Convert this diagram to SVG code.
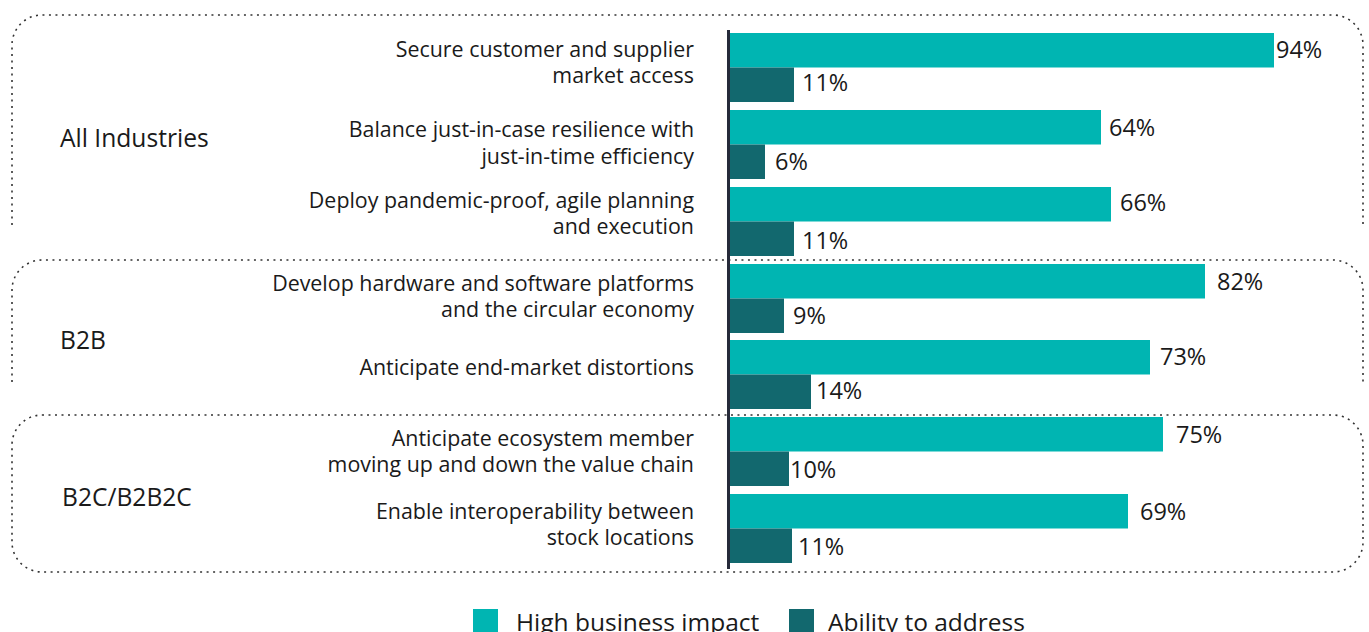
<svg xmlns="http://www.w3.org/2000/svg" width="1369" height="632" viewBox="0 0 1369 632">
<style>
text{font-family:"Open Sans","Noto Sans","DejaVu Sans",sans-serif;fill:#1a1a1a}
.lbl{font-size:21.4px;text-anchor:end}
.val{font-size:23.5px}
.cat{font-size:24.6px}
.leg{font-size:24.5px}
.hi{fill:#00B5B2}
.lo{fill:#12686E}
.box{fill:none;stroke:#333;stroke-width:1.6;stroke-dasharray:2 4.5}
</style>
<rect width="1369" height="632" fill="#fff"/>
<g id="groups">
<path class="box" d="M12,225 V45 A30,30 0 0 1 42,15 H1333 A30,30 0 0 1 1363,45 V227"/>
<path class="box" d="M12,382 V290 A30,30 0 0 1 42,260 H1333 A30,30 0 0 1 1363,290 V383"/>
<rect class="box" x="12" y="415" width="1351" height="157" rx="30" ry="30"/>
<text class="cat" x="60" y="147">All Industries</text>
<text class="cat" x="60" y="349">B2B</text>
<text class="cat" x="62" y="506">B2C/B2B2C</text>
</g>
<g id="row1">
<text class="lbl" x="694" y="57">Secure customer and supplier</text>
<text class="lbl" x="694" y="83">market access</text>
<rect class="hi" x="730" y="33" width="544" height="34.5"/>
<rect class="lo" x="730" y="67.5" width="64" height="34.5"/>
<text class="val" x="1276" y="58">94%</text>
<text class="val" x="802" y="91">11%</text>
</g>
<g id="row2">
<text class="lbl" x="694" y="137">Balance just-in-case resilience with</text>
<text class="lbl" x="694" y="164">just-in-time efficiency</text>
<rect class="hi" x="730" y="110" width="371" height="34.5"/>
<rect class="lo" x="730" y="144.5" width="35" height="34.5"/>
<text class="val" x="1109" y="136">64%</text>
<text class="val" x="775" y="170">6%</text>
</g>
<g id="row3">
<text class="lbl" x="694" y="208">Deploy pandemic-proof, agile planning</text>
<text class="lbl" x="694" y="234">and execution</text>
<rect class="hi" x="730" y="187" width="381" height="34.5"/>
<rect class="lo" x="730" y="221.5" width="64" height="34.5"/>
<text class="val" x="1120" y="211">66%</text>
<text class="val" x="802" y="249">11%</text>
</g>
<g id="row4">
<text class="lbl" x="694" y="291">Develop hardware and software platforms</text>
<text class="lbl" x="694" y="317">and the circular economy</text>
<rect class="hi" x="730" y="264" width="475" height="34.5"/>
<rect class="lo" x="730" y="298.5" width="54" height="34.5"/>
<text class="val" x="1217" y="290">82%</text>
<text class="val" x="793" y="324">9%</text>
</g>
<g id="row5">
<text class="lbl" x="694" y="375">Anticipate end-market distortions</text>
<rect class="hi" x="730" y="340" width="420" height="34.5"/>
<rect class="lo" x="730" y="374.5" width="81" height="34.5"/>
<text class="val" x="1160" y="365">73%</text>
<text class="val" x="816" y="399">14%</text>
</g>
<g id="row6">
<text class="lbl" x="694" y="446">Anticipate ecosystem member</text>
<text class="lbl" x="694" y="472">moving up and down the value chain</text>
<rect class="hi" x="730" y="417" width="433" height="34.5"/>
<rect class="lo" x="730" y="451.5" width="59" height="34.5"/>
<text class="val" x="1176" y="443">75%</text>
<text class="val" x="790" y="478">10%</text>
</g>
<g id="row7">
<text class="lbl" x="694" y="519">Enable interoperability between</text>
<text class="lbl" x="694" y="545">stock locations</text>
<rect class="hi" x="730" y="494" width="398" height="34.5"/>
<rect class="lo" x="730" y="528.5" width="62" height="34.5"/>
<text class="val" x="1140" y="520">69%</text>
<text class="val" x="798" y="555">11%</text>
</g>
<g id="axis">
<line x1="728.5" y1="30" x2="728.5" y2="569" stroke="#262a3a" stroke-width="3"/>
</g>
<g id="legend">
<rect class="hi" x="473" y="609" width="25" height="25"/>
<text class="leg" x="516" y="631">High business impact</text>
<rect class="lo" x="789" y="609" width="25" height="25"/>
<text class="leg" x="828" y="631">Ability to address</text>
</g>
</svg>
